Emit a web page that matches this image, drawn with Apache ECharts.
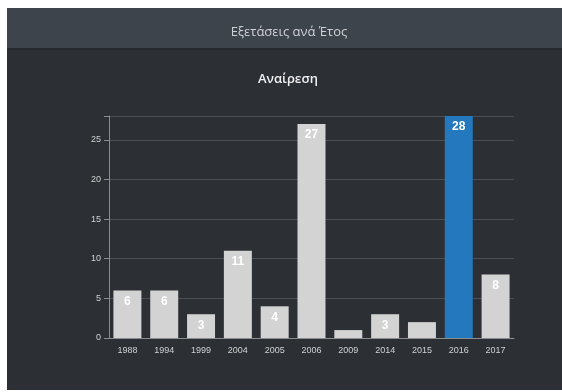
<!DOCTYPE html>
<html>
<head>
<meta charset="utf-8">
<script src="https://cdn.jsdelivr.net/npm/echarts@6/dist/echarts.min.js"></script>
<style>
html,body{margin:0;padding:0;background:#ffffff;}
#c{width:562px;height:392px;}
</style>
</head>
<body>
<div id="c"></div>
<script>
const categories = ['1988','1994','1999','2004','2005','2006','2009','2014','2015','2016','2017'];
const values = [6, 6, 3, 11, 4, 27, 1, 3, 2, 28, 8];
const highlightCategory = '2016';
const yTicks = [0, 5, 10, 15, 20, 25];

const chart = echarts.init(document.getElementById('c'), null, {renderer: 'canvas'});
const data = values.map((v, i) => ({
  value: v,
  itemStyle: {color: categories[i] === highlightCategory ? '#2478bd' : '#d3d3d3'},
  label: {show: v >= 3}
}));

chart.setOption({
  backgroundColor: '#ffffff',
  animation: false,
  graphic: [
    {type: 'rect', left: 7, top: 8, shape: {width: 555, height: 382}, style: {fill: '#2c3034'}, z: -10},
    {type: 'rect', left: 7, top: 8, shape: {width: 555, height: 41}, style: {fill: '#3e444c'}, z: -9},
    {type: 'rect', left: 7, top: 48, shape: {width: 555, height: 2}, style: {fill: '#262a2e'}, z: -9}
  ],
  title: [
    {text: 'Εξετάσεις ανά Έτος', left: 284, top: 21, textAlign: 'center',
     textStyle: {color: '#cfd1d3', fontSize: 13, fontWeight: 'normal', fontFamily: 'Open Sans, sans-serif'}},
    {text: 'Αναίρεση', left: 283, top: 68, textAlign: 'center',
     textStyle: {color: '#f0f0f0', fontSize: 13, fontWeight: 600, fontFamily: 'Open Sans, sans-serif'}}
  ],
  grid: {left: 109, right: 48, top: 116, bottom: 54},
  xAxis: {
    type: 'category',
    data: categories,
    axisLine: {lineStyle: {color: '#8a8d90'}},
    axisTick: {alignWithLabel: true, length: 5, lineStyle: {color: '#8a8d90'}},
    axisLabel: {color: '#d0d0d0', fontSize: 9, margin: 8, fontFamily: 'Liberation Sans, Arial, sans-serif'}
  },
  yAxis: {
    type: 'value',
    min: 0, max: 28, interval: 5,
    axisLine: {show: true, lineStyle: {color: '#8a8d90'}},
    axisTick: {show: true, length: 5, lineStyle: {color: '#8a8d90'}},
    axisLabel: {color: '#d0d0d0', fontSize: 9, margin: 8, fontFamily: 'Liberation Sans, Arial, sans-serif',
      formatter: v => yTicks.includes(v) ? String(v) : ''},
    splitLine: {lineStyle: {color: '#4a4f55', width: 1}}
  },
  series: [{
    type: 'bar',
    data: data,
    barCategoryGap: '24%',
    label: {
      position: 'insideTop', distance: 5, color: '#ffffff', fontSize: 12, fontWeight: 'bold',
      fontFamily: 'Liberation Sans, Arial, sans-serif'
    }
  }]
});
</script>
</body>
</html>
